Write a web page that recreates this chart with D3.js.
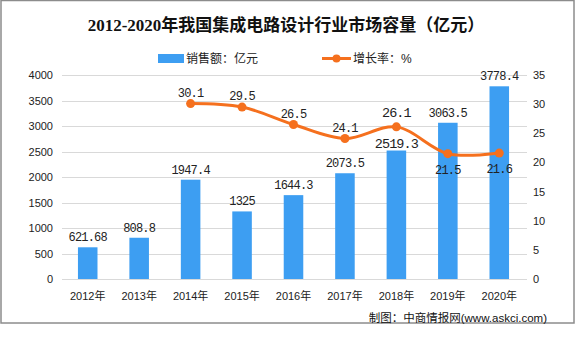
<!DOCTYPE html>
<html>
<head>
<meta charset="utf-8">
<script src="https://cdn.jsdelivr.net/npm/d3@7"></script>
<style>
  html, body { margin: 0; padding: 0; background: #fff; }
  svg { display: block; }
</style>
</head>
<body>
<div id="chart"></div>
<script>
const years = ['2012年', '2013年', '2014年', '2015年', '2016年', '2017年', '2018年', '2019年', '2020年'];
const sales = [621.68, 808.8, 1947.4, 1325, 1644.3, 2073.5, 2519.3, 3063.5, 3778.4];
const salesLabels = ['621.68', '808.8', '1947.4', '1325', '1644.3', '2073.5', '2519.3', '3063.5', '3778.4'];
const growthYears = ['2014年', '2015年', '2016年', '2017年', '2018年', '2019年', '2020年'];
const growth = [30.1, 29.5, 26.5, 24.1, 26.1, 21.5, 21.6];
const leftTicks = [0, 500, 1000, 1500, 2000, 2500, 3000, 3500, 4000];
const rightTicks = [0, 5, 10, 15, 20, 25, 30, 35];

const W = 576, H = 352;
const BLUE = '#3d9ef2', ORANGE = '#f5701e';
const monoFont = '"Liberation Mono", "DejaVu Sans Mono", monospace';
const cjkFont = '"Liberation Sans", "Noto Sans CJK SC", sans-serif';

const svg = d3.select('#chart').append('svg')
  .attr('width', W).attr('height', H);

// frame
svg.append('rect')
  .attr('x', 1).attr('y', 0.5).attr('width', 573).attr('height', 322.5)
  .attr('fill', 'none').attr('stroke', '#8c8c8c').attr('stroke-width', 1.5);

const x = d3.scaleBand().domain(years).range([62, 525]).paddingInner(0.62).paddingOuter(0.31);
const yL = d3.scaleLinear().domain([0, 4000]).range([279, 75]);
const yR = d3.scaleLinear().domain([0, 35]).range([279, 75]);
const cx = d => x(d) + x.bandwidth() / 2;

// gridlines
svg.append('g').selectAll('line').data(leftTicks).join('line')
  .attr('x1', 62).attr('x2', 527)
  .attr('y1', d => Math.round(yL(d)) + 0.5).attr('y2', d => Math.round(yL(d)) + 0.5)
  .attr('stroke', '#d9d9d9').attr('stroke-width', 1);

// left axis
const axL = svg.append('g').attr('transform', 'translate(62,0)')
  .call(d3.axisLeft(yL).tickValues(leftTicks).tickFormat(d3.format('d')).tickSize(0).tickPadding(9));
axL.select('.domain').remove();
axL.selectAll('text').attr('font-family', cjkFont).attr('font-size', 11).attr('fill', '#222');

// right axis
const axR = svg.append('g').attr('transform', 'translate(527,0)')
  .call(d3.axisRight(yR).tickValues(rightTicks).tickFormat(d3.format('d')).tickSize(0).tickPadding(6));
axR.select('.domain').remove();
axR.selectAll('text').attr('font-family', cjkFont).attr('font-size', 11).attr('fill', '#222');

// x axis
const axX = svg.append('g').attr('transform', 'translate(0,279)')
  .call(d3.axisBottom(x).tickSize(0).tickPadding(13));
axX.select('.domain').remove();
axX.selectAll('text').attr('font-family', cjkFont).attr('font-size', 11).attr('fill', '#222');

// bars
svg.append('g').selectAll('rect').data(sales).join('rect')
  .attr('x', (d, i) => x(years[i]))
  .attr('y', d => yL(d))
  .attr('width', x.bandwidth())
  .attr('height', d => yL(0) - yL(d))
  .attr('fill', BLUE);

svg.append('g').selectAll('text').data(sales).join('text')
  .attr('x', (d, i) => cx(years[i]))
  .attr('y', (d, i) => yL(d) - (i === 6 ? 3 : 6))
  .attr('text-anchor', 'middle')
  .attr('font-family', monoFont)
  .attr('font-size', (d, i) => i === 6 ? 13.5 : 12)
  .attr('letter-spacing', (d, i) => i === 6 ? -0.9 : -0.8)
  .attr('fill', '#222')
  .text((d, i) => salesLabels[i]);

// growth line
const line = d3.line()
  .x((d, i) => cx(growthYears[i]))
  .y(d => yR(d))
  .curve(d3.curveCatmullRom.alpha(0.5));

svg.append('path').datum(growth)
  .attr('d', line)
  .attr('fill', 'none').attr('stroke', ORANGE).attr('stroke-width', 3);

svg.append('g').selectAll('circle').data(growth).join('circle')
  .attr('cx', (d, i) => cx(growthYears[i]))
  .attr('cy', d => yR(d))
  .attr('r', 4.5).attr('fill', ORANGE);

svg.append('g').selectAll('text').data(growth).join('text')
  .attr('x', (d, i) => cx(growthYears[i]))
  .attr('y', (d, i) => i >= 5 ? yR(d) + 20 : yR(d) - (i === 4 ? 10 : 7))
  .attr('text-anchor', 'middle')
  .attr('font-family', monoFont)
  .attr('font-size', (d, i) => i === 4 ? 13.5 : 12)
  .attr('letter-spacing', (d, i) => i === 4 ? -0.9 : -0.8)
  .attr('fill', '#222')
  .text(d => d.toFixed(1));

// title
svg.append('text')
  .attr('x', 286).attr('y', 31)
  .attr('text-anchor', 'middle')
  .attr('font-family', '"Liberation Serif", "Noto Sans CJK SC", serif')
  .attr('font-weight', 'bold')
  .attr('font-size', 17)
  .attr('fill', '#111')
  .text('2012-2020年我国集成电路设计行业市场容量（亿元）');

// legend
const lg = svg.append('g');
lg.append('rect').attr('x', 158).attr('y', 54).attr('width', 26).attr('height', 9).attr('fill', BLUE);
lg.append('text').attr('x', 186).attr('y', 63)
  .attr('font-family', cjkFont).attr('font-size', 12).attr('fill', '#222')
  .text('销售额：亿元');
lg.append('line').attr('x1', 322).attr('x2', 351).attr('y1', 58.5).attr('y2', 58.5)
  .attr('stroke', ORANGE).attr('stroke-width', 3);
lg.append('circle').attr('cx', 336.5).attr('cy', 58.5).attr('r', 4).attr('fill', ORANGE);
lg.append('text').attr('x', 353).attr('y', 63)
  .attr('font-family', cjkFont).attr('font-size', 12).attr('fill', '#222')
  .text('增长率：%');

// source
svg.append('text')
  .attr('x', 547).attr('y', 322)
  .attr('text-anchor', 'end')
  .attr('font-family', cjkFont).attr('font-size', 11.5).attr('fill', '#111')
  .text('制图：中商情报网(www.askci.com)');
</script>
</body>
</html>
